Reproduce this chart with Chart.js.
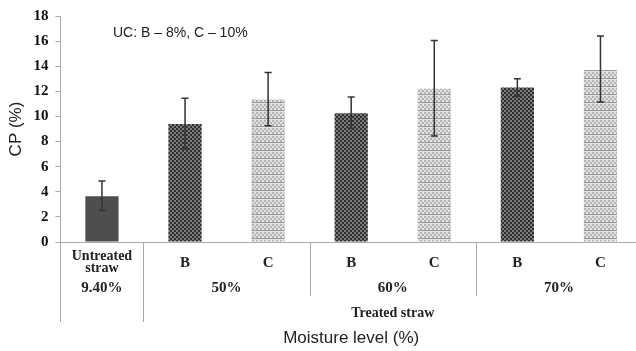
<!DOCTYPE html>
<html lang="en">
<head>
    <meta charset="UTF-8">
    <title>CP by moisture level</title>
    <script src="https://cdn.jsdelivr.net/npm/chart.js"></script>
    <style>
        html, body { margin: 0; padding: 0; background: #fff; overflow: hidden; }
        #wrap { width: 650px; height: 351px; }
    </style>
</head>
<body>
    <div id="wrap">
        <canvas id="cpChart"></canvas>
    </div>

    <script>
        // data
        const categories = ['Untreated straw', 'B', 'C', 'B', 'C', 'B', 'C'];
        const cpValues = [3.65, 9.4, 11.35, 10.25, 12.2, 12.3, 13.7];
        const errLow = [2.5, 7.4, 9.25, 9.05, 8.45, 11.6, 11.15];
        const errHigh = [4.85, 11.45, 13.5, 11.55, 16.05, 13.0, 16.4];
        const barKind = ['solid', 'dark', 'light', 'dark', 'light', 'dark', 'light'];
        const groupLabels = ['9.40%', '50%', '60%', '70%'];
        const groupSpans = [[0, 0], [1, 2], [3, 4], [5, 6]];
        const yTicks = [0, 2, 4, 6, 8, 10, 12, 14, 16, 18];
        const note = 'UC: B \u2013 8%, C \u2013 10%';

        const serif = "'Liberation Serif', 'Times New Roman', serif";
        const sans = "'Liberation Sans', Arial, sans-serif";

        // bar fills
        function makePattern(kind) {
            const c = document.createElement('canvas');
            const g = c.getContext('2d');
            if (kind === 'dark') {
                c.width = 4; c.height = 4;
                g.fillStyle = '#7c7c7c'; g.fillRect(0, 0, 4, 4);
                g.fillStyle = '#2f2f2f';
                g.fillRect(0, 0, 2, 2); g.fillRect(2, 2, 2, 2);
            } else {
                c.width = 4; c.height = 8;
                g.fillStyle = '#e2e2e2'; g.fillRect(0, 0, 4, 8);
                g.fillStyle = '#b4b4b4';
                g.fillRect(0, 0, 2, 2); g.fillRect(2, 2, 2, 2); g.fillRect(0, 4, 2, 2);
                g.fillStyle = '#9c9c9c'; g.fillRect(0, 6, 4, 1);
            }
            return g.createPattern(c, 'repeat');
        }
        const fills = { solid: '#4e4e4e', dark: makePattern('dark'), light: makePattern('light') };

        // error bars
        const errorBars = {
            id: 'errorBars',
            afterDatasetsDraw(chart) {
                const { ctx, scales: { y } } = chart;
                const meta = chart.getDatasetMeta(0);
                ctx.save();
                ctx.strokeStyle = '#333';
                ctx.lineWidth = 1.5;
                meta.data.forEach((bar, i) => {
                    const x = bar.x, yl = y.getPixelForValue(errLow[i]), yh = y.getPixelForValue(errHigh[i]);
                    ctx.beginPath();
                    ctx.moveTo(x, yl); ctx.lineTo(x, yh);
                    ctx.moveTo(x - 3.5, yl); ctx.lineTo(x + 3.5, yl);
                    ctx.moveTo(x - 3.5, yh); ctx.lineTo(x + 3.5, yh);
                    ctx.stroke();
                });
                ctx.restore();
            }
        };

        // table of labels under the x axis
        const xTable = {
            id: 'xTable',
            afterDraw(chart) {
                const { ctx, chartArea, scales: { x } } = chart;
                const bottom = chartArea.bottom;
                const half = (x.getPixelForValue(1) - x.getPixelForValue(0)) / 2;
                const edge = i => x.getPixelForValue(i) - half;
                ctx.save();
                ctx.strokeStyle = '#aaa';
                ctx.lineWidth = 1;
                const vline = (px, y2) => {
                    ctx.beginPath();
                    ctx.moveTo(Math.round(px) + 0.5, bottom);
                    ctx.lineTo(Math.round(px) + 0.5, y2);
                    ctx.stroke();
                };
                vline(chartArea.left - 0.5, bottom + 80);
                vline(edge(1), bottom + 80);
                vline(edge(3), bottom + 54);
                vline(edge(5), bottom + 54);

                ctx.fillStyle = '#222';
                ctx.textAlign = 'center';
                ctx.textBaseline = 'middle';
                categories.forEach((lab, i) => {
                    const cx = x.getPixelForValue(i);
                    if (i === 0) {
                        ctx.font = 'bold 14px ' + serif;
                        const words = lab.split(' ');
                        ctx.fillText(words[0], cx, bottom + 14);
                        ctx.fillText(words[1], cx, bottom + 26);
                    } else {
                        ctx.font = 'bold 15px ' + serif;
                        ctx.fillText(lab, cx, bottom + 21);
                    }
                });
                ctx.font = 'bold 15px ' + serif;
                groupLabels.forEach((lab, g) => {
                    const [a, b] = groupSpans[g];
                    const cx = (x.getPixelForValue(a) + x.getPixelForValue(b)) / 2;
                    ctx.fillText(lab, cx, bottom + 46);
                });
                ctx.font = 'bold 14px ' + serif;
                ctx.fillText('Treated straw', (edge(1) + edge(7)) / 2, bottom + 71);

                ctx.font = '17px ' + sans;
                ctx.fillText('Moisture level (%)', (chartArea.left + chartArea.right) / 2, bottom + 96);

                ctx.font = '14px ' + sans;
                ctx.textAlign = 'left';
                ctx.fillText(note, 113, 33);
                ctx.restore();
            }
        };

        const ctx = document.getElementById('cpChart').getContext('2d');
        new Chart(ctx, {
            type: 'bar',
            data: {
                labels: categories,
                datasets: [{
                    data: cpValues,
                    backgroundColor: barKind.map(k => fills[k]),
                    borderWidth: 0,
                    barPercentage: 0.4,
                    categoryPercentage: 1.0
                }]
            },
            options: {
                responsive: true,
                maintainAspectRatio: false,
                animation: false,
                layout: { padding: { left: 6, right: 8, top: 12, bottom: 109 } },
                plugins: { legend: { display: false }, tooltip: { enabled: false } },
                scales: {
                    x: {
                        ticks: { display: false },
                        grid: { display: false, drawTicks: false },
                        border: { color: '#aaa', width: 1 }
                    },
                    y: {
                        min: 0,
                        max: 18,
                        afterBuildTicks: s => { s.ticks = yTicks.map(v => ({ value: v })); },
                        ticks: { font: { family: serif, size: 15, weight: 'bold' }, color: '#111', padding: 7 },
                        grid: { drawOnChartArea: false, tickLength: 5, color: '#aaa' },
                        border: { color: '#aaa', width: 1 },
                        title: { display: true, text: 'CP (%)', font: { family: sans, size: 17 }, color: '#222', padding: { top: 0, bottom: 0 } }
                    }
                }
            },
            plugins: [errorBars, xTable]
        });
    </script>
</body>
</html>
